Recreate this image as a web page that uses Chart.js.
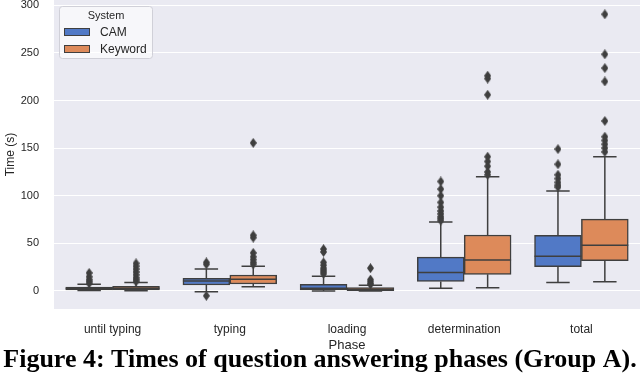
<!DOCTYPE html>
<html>
<head>
<meta charset="utf-8">
<script src="https://cdn.jsdelivr.net/npm/chart.js@4"></script>
<style>
  html, body { margin: 0; padding: 0; background: #fff; }
  #wrap { width: 640px; height: 375px; }
</style>
</head>
<body>
<div id="wrap"><canvas id="phases"></canvas></div>
<script>
const phases = ['until typing', 'typing', 'loading', 'determination', 'total'];

// CAM
const camLow    = [0.5, -0.7, 0, 2.8, 9];
const camQ1     = [1, 6.3, 1, 10, 25.5];
const camMedian = [2.5, 10.5, 3, 19.5, 36.5];
const camQ3     = [4, 13.3, 7, 35.5, 58.5];
const camHigh   = [7, 23, 15.5, 72.5, 105];
const camOutliers = [
  [19, 15, 12, 10, 8],
  [30, 28, -5],
  [44, 41, 30, 27, 24, 22, 20, 18],
  [115, 107, 100, 93, 88, 84, 81, 78, 76, 74],
  [149, 133, 122, 118, 114, 111, 109]
];

// Keyword
const keyLow    = [0.3, 4.5, 0, 3.5, 9.8];
const keyQ1     = [1, 7.3, 0.3, 17.5, 31.8];
const keyMedian = [3, 12.3, 1.5, 32.5, 48];
const keyQ3     = [5, 16.8, 3.5, 58.8, 75.5];
const keyHigh   = [9, 26, 6, 120, 141];
const keyOutliers = [
  [29, 26, 23, 20, 17, 14, 12, 10],
  [155.5, 58.5, 56, 40, 36, 33, 30, 28],
  [24, 12, 10, 8, 7],
  [226, 223, 206, 141, 136, 131, 125, 122],
  [290.5, 248.5, 234, 220, 178.5, 162, 158, 154, 150, 146]
];

const yTicks = [0, 50, 100, 150, 200, 250, 300];

const edge = '#3f3f3f';
const camColor = '#5179c6';
const keyColor = '#dd8a5a';
const sans = '"Liberation Sans", Arial, sans-serif';

// thin diamond marker like seaborn's 'd'
const diamond = document.createElement('canvas');
diamond.width = 7; diamond.height = 10;
(function() {
  const c = diamond.getContext('2d');
  c.fillStyle = edge;
  c.beginPath();
  c.moveTo(3.5, 0); c.lineTo(7, 5); c.lineTo(3.5, 10); c.lineTo(0, 5);
  c.closePath();
  c.fill();
})();

function boxes(shift, q1, q3) {
  return phases.map(function(p, i) { return {x: i + shift, y: [q1[i], q3[i]]}; });
}

// whiskers, caps and medians as line segments (null = gap)
function boxLines(shift, low, q1, med, q3, high) {
  const pts = [];
  phases.forEach(function(p, i) {
    const c = i + shift;
    pts.push({x: c - 0.2, y: med[i]}, {x: c + 0.2, y: med[i]}, {x: c, y: null});
    pts.push({x: c, y: q3[i]}, {x: c, y: high[i]}, {x: c, y: null});
    pts.push({x: c - 0.1, y: high[i]}, {x: c + 0.1, y: high[i]}, {x: c, y: null});
    pts.push({x: c, y: q1[i]}, {x: c, y: low[i]}, {x: c, y: null});
    pts.push({x: c - 0.1, y: low[i]}, {x: c + 0.1, y: low[i]}, {x: c, y: null});
  });
  return pts;
}

function outlierPoints(shift, list) {
  const pts = [];
  list.forEach(function(vals, i) {
    vals.forEach(function(v) { pts.push({x: i + shift, y: v}); });
  });
  return pts;
}

const plotBackground = {
  id: 'plotBackground',
  beforeDraw(chart) {
    const a = chart.chartArea, ctx = chart.ctx;
    ctx.save();
    ctx.fillStyle = '#eaeaf2';
    ctx.fillRect(a.left, a.top, a.right - a.left, a.bottom - a.top);
    ctx.restore();
  }
};

// legend box inside the plot, top left
const innerLegend = {
  id: 'innerLegend',
  afterDraw(chart) {
    const ctx = chart.ctx;
    const x = 59, y = 6, w = 93, h = 52;
    ctx.save();
    ctx.fillStyle = 'rgba(255,255,255,0.6)';
    ctx.strokeStyle = '#d0d0d8';
    ctx.lineWidth = 1;
    ctx.beginPath();
    ctx.roundRect(x + 0.5, y + 0.5, w, h, 3);
    ctx.fill();
    ctx.stroke();
    ctx.fillStyle = '#262626';
    ctx.font = '11px ' + sans;
    ctx.textBaseline = 'middle';
    ctx.textAlign = 'center';
    ctx.fillText('System', x + 47, y + 10);
    ctx.textAlign = 'left';
    ctx.font = '12px ' + sans;
    [0, 1].forEach(function(d, k) {
      const ds = chart.data.datasets[d];
      const ry = y + 22 + k * 17;
      ctx.fillStyle = ds.backgroundColor;
      ctx.fillRect(x + 5, ry, 26, 8);
      ctx.strokeStyle = edge;
      ctx.strokeRect(x + 5.5, ry + 0.5, 25, 7);
      ctx.fillStyle = '#262626';
      ctx.fillText(ds.label, x + 41, ry + 4.5);
    });
    ctx.restore();
  }
};

const phaseChart = document.getElementById('phases');

new Chart(phaseChart, {
  type: 'bar',
  data: {
    labels: phases,
    datasets: [
      {
        label: 'CAM',
        xAxisID: 'xl',
        data: boxes(-0.2, camQ1, camQ3),
        backgroundColor: camColor,
        borderColor: edge,
        borderWidth: 1.5,
        borderSkipped: false,
        grouped: false,
        categoryPercentage: 1,
        barPercentage: 1,
        order: 2
      },
      {
        label: 'Keyword',
        xAxisID: 'xl',
        data: boxes(0.2, keyQ1, keyQ3),
        backgroundColor: keyColor,
        borderColor: edge,
        borderWidth: 1.5,
        borderSkipped: false,
        grouped: false,
        categoryPercentage: 1,
        barPercentage: 1,
        order: 2
      },
      {
        type: 'line',
        label: 'CAM lines',
        xAxisID: 'xl',
        data: boxLines(-0.2, camLow, camQ1, camMedian, camQ3, camHigh),
        borderColor: edge,
        borderWidth: 1.5,
        pointRadius: 0,
        spanGaps: false,
        tension: 0,
        order: 1
      },
      {
        type: 'line',
        label: 'Keyword lines',
        xAxisID: 'xl',
        data: boxLines(0.2, keyLow, keyQ1, keyMedian, keyQ3, keyHigh),
        borderColor: edge,
        borderWidth: 1.5,
        pointRadius: 0,
        spanGaps: false,
        tension: 0,
        order: 1
      },
      {
        type: 'scatter',
        label: 'CAM outliers',
        xAxisID: 'xl',
        data: outlierPoints(-0.2, camOutliers),
        pointStyle: diamond,
        order: 0
      },
      {
        type: 'scatter',
        label: 'Keyword outliers',
        xAxisID: 'xl',
        data: outlierPoints(0.2, keyOutliers),
        pointStyle: diamond,
        order: 0
      }
    ]
  },
  options: {
    responsive: true,
    maintainAspectRatio: false,
    animation: false,
    layout: { autoPadding: false, padding: 0 },
    plugins: {
      legend: { display: false },
      tooltip: { enabled: false },
      title: {
        display: true,
        position: 'bottom',
        text: 'Figure 4: Times of question answering phases (Group A).',
        color: '#000',
        font: { family: '"Liberation Serif", "DejaVu Serif", serif', size: 26, weight: 'bold', lineHeight: 1 },
        padding: { top: 0, bottom: 2 }
      }
    },
    scales: {
      x: {
        type: 'category',
        offset: true,
        afterFit: function(s) { s.height = 38; s.paddingLeft = 0; s.paddingRight = 0; },
        grid: { display: false, drawTicks: false },
        border: { display: false },
        ticks: {
          color: '#262626',
          padding: 13,
          maxRotation: 0,
          font: { family: sans, size: 12 }
        },
        title: {
          display: true,
          text: 'Phase',
          color: '#262626',
          padding: { top: 0, bottom: -6 },
          font: { family: sans, size: 13 }
        }
      },
      xl: {
        type: 'linear',
        display: false,
        offset: false,
        grid: { offset: false },
        min: -0.5,
        max: 4.5,
        afterBuildTicks: function(s) { s.ticks = []; }
      },
      y: {
        type: 'linear',
        min: -18.9,
        max: 305.5,
        afterFit: function(s) { s.width = 54; s.paddingTop = 0; s.paddingBottom = 0; },
        afterBuildTicks: function(s) { s.ticks = yTicks.map(function(v) { return {value: v}; }); },
        grid: { color: '#ffffff', lineWidth: 1, drawTicks: false },
        border: { display: false },
        ticks: {
          color: '#262626',
          padding: 15,
          font: { family: sans, size: 11 }
        },
        title: {
          display: true,
          text: 'Time (s)',
          color: '#262626',
          padding: { top: 3, bottom: 0 },
          font: { family: sans, size: 12 }
        }
      }
    }
  },
  plugins: [plotBackground, innerLegend]
});
</script>
</body>
</html>
